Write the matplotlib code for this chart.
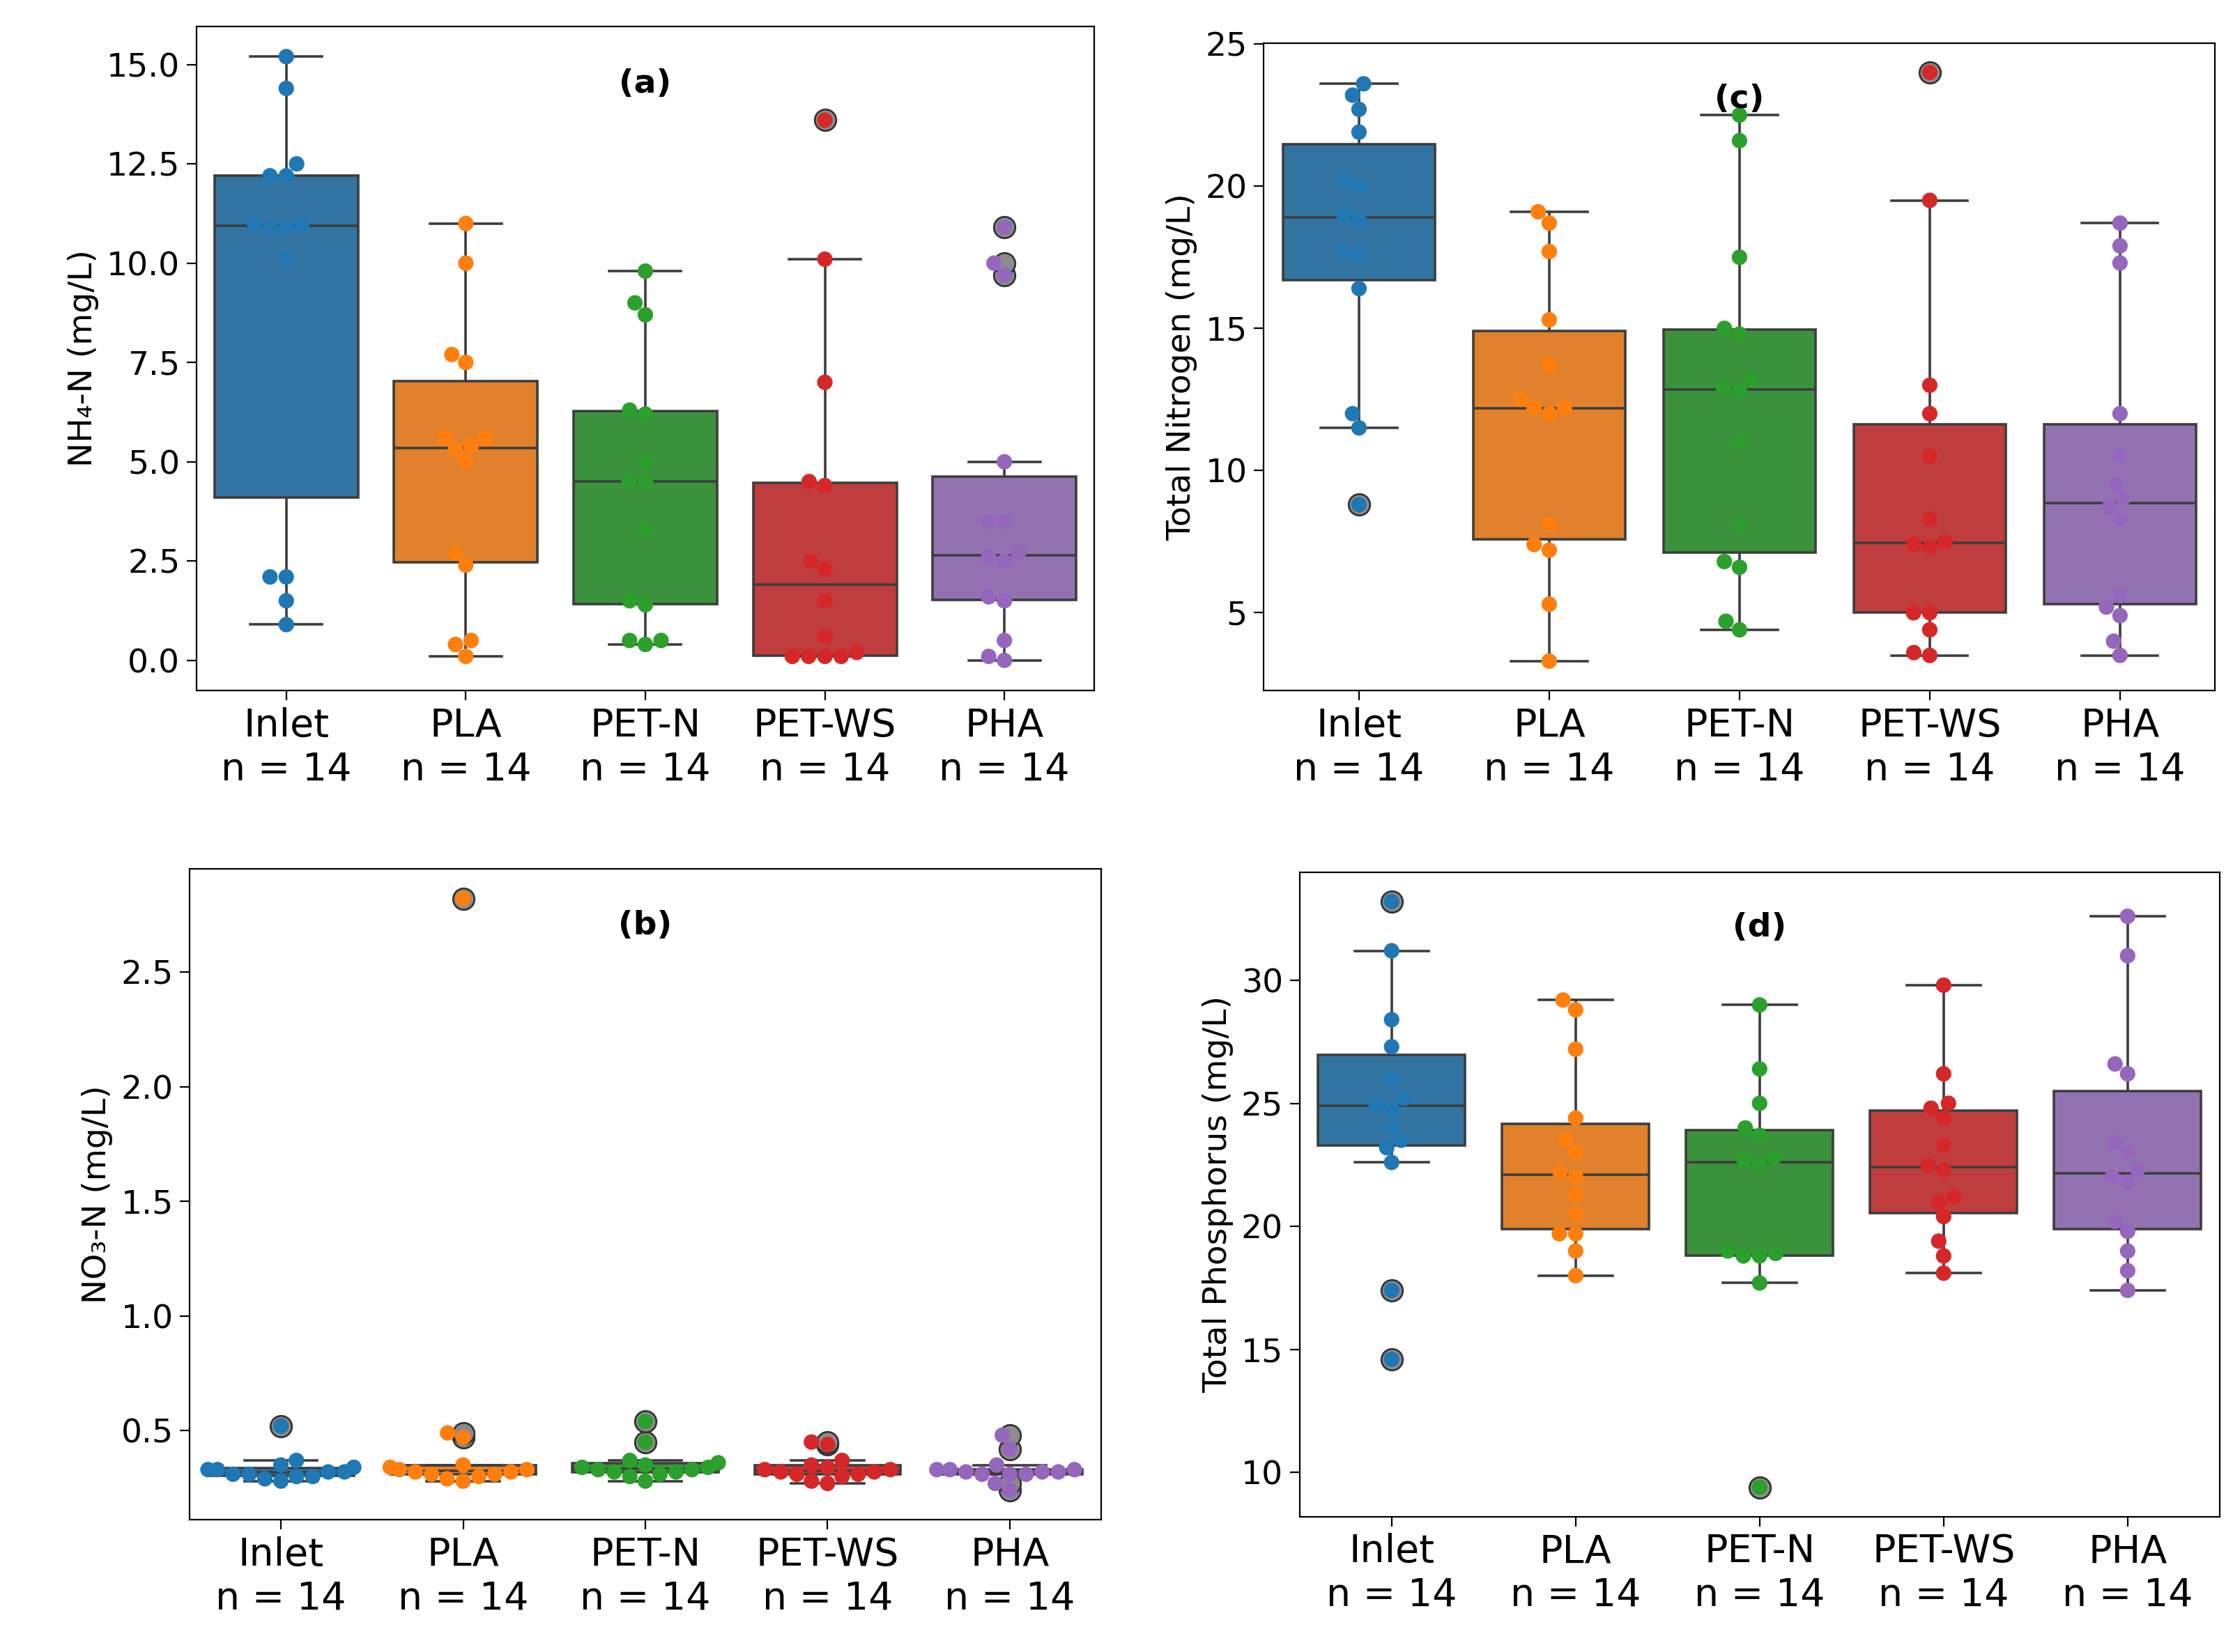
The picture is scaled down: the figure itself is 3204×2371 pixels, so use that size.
import numpy as np
import pandas as pd
import matplotlib
matplotlib.use("Agg")
import matplotlib.pyplot as plt
import seaborn as sns

groups = ["Inlet", "PLA", "PET-N", "PET-WS", "PHA"]

nh4 = {
    "Inlet": [0.9, 1.5, 2.1, 2.1, 10.1, 10.9, 10.9, 11.0, 11.0, 12.2, 12.2, 12.5, 14.4, 15.2],
    "PLA": [0.1, 0.4, 0.5, 2.4, 2.7, 5.0, 5.3, 5.4, 5.6, 5.6, 7.5, 7.7, 10.0, 11.0],
    "PET-N": [0.4, 0.5, 0.5, 1.4, 1.5, 3.3, 4.5, 4.5, 5.0, 6.2, 6.3, 8.7, 9.0, 9.8],
    "PET-WS": [0.1, 0.1, 0.1, 0.1, 0.2, 0.6, 1.5, 2.3, 2.5, 4.4, 4.5, 7.0, 10.1, 13.6],
    "PHA": [0.0, 0.1, 0.5, 1.5, 1.6, 2.5, 2.6, 2.7, 3.5, 3.5, 5.0, 9.7, 10.0, 10.9],
}
no3 = {
    "Inlet": [0.28, 0.29, 0.30, 0.30, 0.31, 0.31, 0.32, 0.32, 0.33, 0.33, 0.34, 0.35, 0.37, 0.52],
    "PLA": [0.28, 0.29, 0.30, 0.31, 0.31, 0.32, 0.32, 0.33, 0.33, 0.34, 0.35, 0.47, 0.49, 2.82],
    "PET-N": [0.28, 0.30, 0.31, 0.32, 0.32, 0.33, 0.33, 0.34, 0.34, 0.35, 0.36, 0.37, 0.45, 0.54],
    "PET-WS": [0.27, 0.28, 0.30, 0.31, 0.31, 0.32, 0.32, 0.33, 0.33, 0.34, 0.35, 0.37, 0.44, 0.45],
    "PHA": [0.24, 0.27, 0.31, 0.31, 0.31, 0.32, 0.32, 0.32, 0.33, 0.33, 0.33, 0.35, 0.42, 0.48],
}
tn = {
    "Inlet": [8.8, 11.5, 12.0, 16.4, 17.6, 17.7, 18.8, 19.0, 20.0, 20.2, 21.9, 22.7, 23.2, 23.6],
    "PLA": [3.3, 5.3, 7.2, 7.4, 8.1, 12.0, 12.2, 12.2, 12.5, 13.7, 15.3, 17.7, 18.7, 19.1],
    "PET-N": [4.4, 4.7, 6.6, 6.8, 8.1, 11.0, 12.8, 12.9, 13.2, 14.8, 15.0, 17.5, 21.6, 22.5],
    "PET-WS": [3.5, 3.6, 4.4, 5.0, 5.0, 7.3, 7.4, 7.5, 8.3, 10.5, 12.0, 13.0, 19.5, 24.0],
    "PHA": [3.5, 4.0, 4.9, 5.2, 5.6, 8.3, 8.7, 9.0, 9.5, 10.5, 12.0, 17.3, 17.9, 18.7],
}
tp = {
    "Inlet": [14.6, 17.4, 22.6, 23.2, 23.5, 24.0, 24.8, 25.0, 25.2, 26.0, 27.3, 28.4, 31.2, 33.2],
    "PLA": [18.0, 19.0, 19.7, 19.7, 20.5, 21.3, 22.0, 22.2, 23.0, 23.5, 24.4, 27.2, 28.8, 29.2],
    "PET-N": [9.4, 17.7, 18.8, 18.8, 18.9, 19.0, 22.5, 22.7, 22.8, 23.7, 24.0, 25.0, 26.4, 29.0],
    "PET-WS": [18.1, 18.8, 19.4, 20.4, 21.0, 21.2, 22.3, 22.5, 23.3, 24.4, 24.8, 25.0, 26.2, 29.8],
    "PHA": [17.4, 18.2, 19.0, 19.8, 20.2, 21.8, 22.0, 22.3, 23.0, 23.4, 26.2, 26.6, 31.0, 32.6],
}

panels = [
    (nh4, "NH\u2084-N (mg/L)", "(a)", [0, 2.5, 5, 7.5, 10, 12.5, 15], "{:.1f}", [0.088, 0.582, 0.402, 0.402]),
    (tn, "Total Nitrogen (mg/L)", "(c)", [5, 10, 15, 20, 25], "{:.0f}", [0.566, 0.582, 0.426, 0.392]),
    (no3, "NO\u2083-N (mg/L)", "(b)", [0.5, 1.0, 1.5, 2.0, 2.5], "{:.1f}", [0.085, 0.080, 0.408, 0.394]),
    (tp, "Total Phosphorus (mg/L)", "(d)", [10, 15, 20, 25, 30], "{:.0f}", [0.582, 0.082, 0.412, 0.390]),
]

fig = plt.figure(figsize=(16.02, 11.855), dpi=200)
pal = sns.color_palette("tab10", 5)

for d, ylab, tag, ticks, fmt, pos in panels:
    ax = fig.add_axes(pos)
    df = pd.DataFrame([(g, v) for g in groups for v in d[g]], columns=["g", "v"])
    sns.boxplot(data=df, x="g", y="v", hue="g", order=groups, palette=pal, ax=ax,
                width=0.8, linewidth=1.3, legend=False,
                flierprops=dict(marker="o", markersize=11, markerfacecolor="0.55",
                                markeredgecolor="0.2"))
    sns.swarmplot(data=df, x="g", y="v", hue="g", order=groups, palette=pal, ax=ax,
                  size=8, legend=False)
    ax.set_xlabel("")
    ax.set_ylabel(ylab, fontsize=17)
    ax.set_xticks(range(5))
    ax.set_xticklabels([f"{g}\nn = {len(d[g])}" for g in groups], fontsize=20)
    ax.set_yticks(ticks)
    ax.set_yticklabels([fmt.format(t) for t in ticks], fontsize=17)
    ax.text(0.5, 0.9, tag, transform=ax.transAxes, ha="center", fontsize=17, fontweight="bold")
    ax.tick_params(length=5)

plt.savefig("out.png", dpi=200)
